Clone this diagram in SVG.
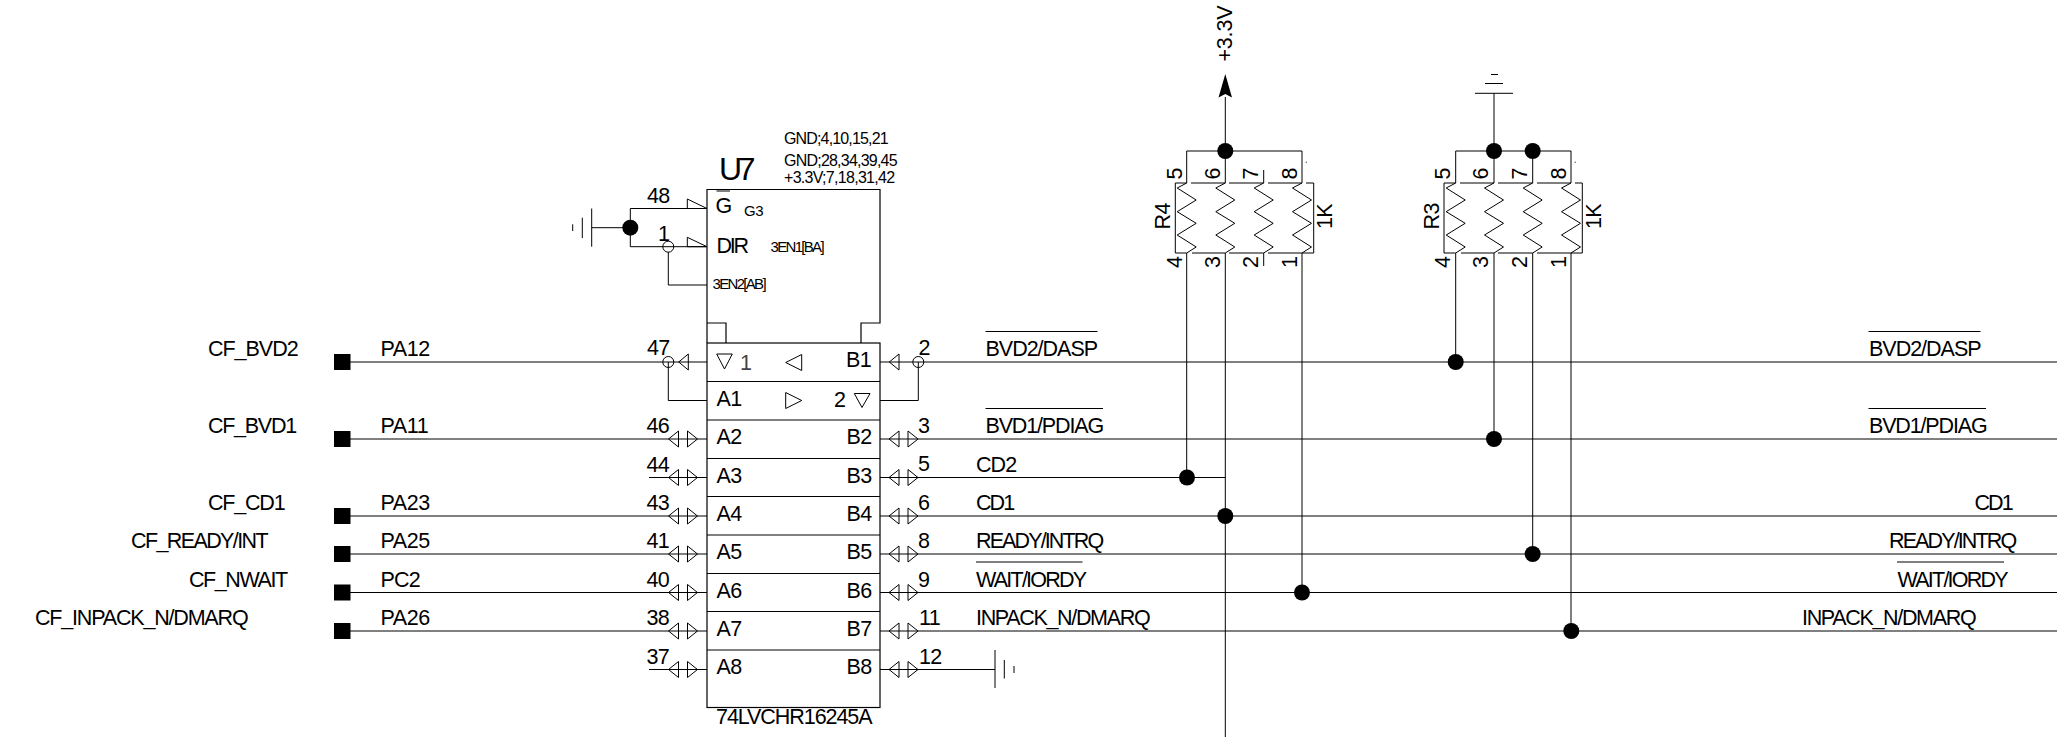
<svg xmlns="http://www.w3.org/2000/svg" width="2057" height="737" viewBox="0 0 2057 737">
<style>
text{font-family:"Liberation Sans",Arial,sans-serif;font-size:21.5px;letter-spacing:-0.6px;fill:#000}
.s{font-size:15px}.m{font-size:16px}.l{font-size:32px}
.w{fill:none;stroke:#000;stroke-width:1}
.b{fill:none;stroke:#000;stroke-width:1.2}
.t{fill:none;stroke:#000;stroke-width:1}
.d{fill:#000}
</style>
<defs>
<path id="bi" class="t" d="M0 0L10 -8V8Z M29 0L19 -8V8Z"/>
<path id="zig" class="w" d="M0 0L-9.5 5L9.5 17L-9.5 28.7L9.5 40.3L-9.5 52L9.5 64L0 70"/>
<rect id="port" x="-8" y="-8" width="16.5" height="16" fill="#000"/>
</defs>
<g id="connectors">
<path class="w" d="M350 362H707M880 362H2057M350 439H707M880 439H2057M649 477.5H707M880 477.5H1225.3M350 516H707M880 516H2057M350 554H707M880 554H2057M350 592.5H707M880 592.5H2057M350 631H707M880 631H2057M649 669.5H707M880 669.5H995"/>
<path class="w" d="M668.3 362V400.5H707M918.3 362V400.5H880"/>
<path class="w" d="M707 208.5H630.3V246.7H707M630.3 227.7H591.7M668.3 252V285H707"/>
<path class="w" d="M1225.3 97V183M1225.3 253V737"/>
<path class="w" d="M1186.7 183V151H1302V183M1263.7 170V183"/>
<path class="w" d="M1186.7 253V477.5M1263.7 253V266M1302 253V592.5"/>
<path class="w" d="M1455.7 183V151H1571V183M1494 93.3V183M1532.7 151V183"/>
<path class="w" d="M1455.7 253V362M1494 253V439M1532.7 253V554M1571 253V631"/>
</g>
<g id="junctions">
<circle class="d" cx="630.3" cy="227.7" r="8"/>
<circle class="d" cx="1225.3" cy="151" r="8"/>
<circle class="d" cx="1494" cy="151" r="8"/>
<circle class="d" cx="1532.7" cy="151" r="8"/>
<circle class="d" cx="1187" cy="477.5" r="8"/>
<circle class="d" cx="1225.3" cy="516" r="8"/>
<circle class="d" cx="1302" cy="592.5" r="8"/>
<circle class="d" cx="1455.7" cy="362" r="8"/>
<circle class="d" cx="1494" cy="439" r="8"/>
<circle class="d" cx="1532.7" cy="554" r="8"/>
<circle class="d" cx="1571.3" cy="631" r="8"/>
</g>
<g id="ports">
<use href="#port" x="342" y="362"/><use href="#port" x="342" y="439"/><use href="#port" x="342" y="516"/><use href="#port" x="342" y="554"/><use href="#port" x="342" y="592.5"/><use href="#port" x="342" y="631"/>
<text x="208" y="356" textLength="90" lengthAdjust="spacing">CF_BVD2</text>
<text x="208" y="433" textLength="88.5" lengthAdjust="spacing">CF_BVD1</text>
<text x="208" y="510" textLength="77" lengthAdjust="spacing">CF_CD1</text>
<text x="131" y="548" textLength="137" lengthAdjust="spacing">CF_READY/INT</text>
<text x="189" y="586.5" textLength="98.5" lengthAdjust="spacing">CF_NWAIT</text>
<text x="35" y="625" textLength="213" lengthAdjust="spacing">CF_INPACK_N/DMARQ</text>
<text x="380.5" y="356" textLength="49" lengthAdjust="spacing">PA12</text><text x="380.5" y="433" textLength="47.5" lengthAdjust="spacing">PA11</text><text x="380.5" y="510" textLength="49" lengthAdjust="spacing">PA23</text><text x="380.5" y="548" textLength="49" lengthAdjust="spacing">PA25</text><text x="380.5" y="586.5" textLength="39.5" lengthAdjust="spacing">PC2</text><text x="380.5" y="625" textLength="49" lengthAdjust="spacing">PA26</text>
</g>
<g id="U7">
<path class="b" d="M707 343V189.5H880V323H861V343M707 323H726V343"/>
<rect class="b" x="707" y="343" width="173" height="364.5"/>
<path class="w" d="M707 381.5H880M707 420H880M707 458.5H880M707 496.5H880M707 535H880M707 573.5H880M707 611.5H880M707 650H880"/>
<text class="l" x="719" y="179.5" textLength="36" lengthAdjust="spacing">U7</text>
<text class="m" x="784" y="144" textLength="104" lengthAdjust="spacing">GND;4,10,15,21</text>
<text class="m" x="784" y="165.5" textLength="113" lengthAdjust="spacing">GND;28,34,39,45</text>
<text class="m" x="784" y="182.5" textLength="110.5" lengthAdjust="spacing">+3.3V;7,18,31,42</text>
<text x="715.5" y="212.5">G</text>
<path class="w" d="M716.5 191H730"/>
<text class="s" x="744" y="215.5" textLength="19" lengthAdjust="spacing">G3</text>
<text x="716.5" y="252.5" textLength="32" lengthAdjust="spacing">DIR</text>
<text class="s" x="770.5" y="251.5" textLength="53.5" lengthAdjust="spacing">3EN1[BA]</text>
<text class="s" x="712.5" y="288.5" textLength="53.5" lengthAdjust="spacing">3EN2[AB]</text>
<path class="t" d="M687.3 208.5V199L707 208.5ZM687.3 246.7V237.3L707 246.7Z"/>
<circle class="t" cx="668.3" cy="246.7" r="5.5"/>
<text x="647" y="203">48</text><text x="658" y="240.5">1</text>
<circle class="t" cx="668.3" cy="362" r="5.5"/><circle class="t" cx="918.3" cy="362" r="5.5"/>
<path class="t" d="M678.7 362L688.3 354V370Z M889.3 362L899 354V370Z"/>
<path class="t" d="M716.7 354H732.3L724.5 369Z M854.3 393.5H870L862 407.5Z M785.7 362.5L801.7 354.5V370.5Z M801.7 400.5L785.7 392.5V408.5Z"/>
<text x="740" y="370" style="fill:#444">1</text>
<text x="834" y="406.5">2</text>
<text x="846" y="367">B1</text><text x="716.5" y="406">A1</text>
<text x="647" y="354.5">47</text><text x="918.5" y="355">2</text>
<use href="#bi" x="668.5" y="439"/><use href="#bi" x="668.5" y="477.5"/><use href="#bi" x="668.5" y="516"/><use href="#bi" x="668.5" y="554"/><use href="#bi" x="668.5" y="592.5"/><use href="#bi" x="668.5" y="631"/><use href="#bi" x="668.5" y="669.5"/>
<use href="#bi" x="889" y="439"/><use href="#bi" x="889" y="477.5"/><use href="#bi" x="889" y="516"/><use href="#bi" x="889" y="554"/><use href="#bi" x="889" y="592.5"/><use href="#bi" x="889" y="631"/><use href="#bi" x="889" y="669.5"/>
<text x="716.5" y="444">A2</text><text x="716.5" y="482.5">A3</text><text x="716.5" y="520.5">A4</text><text x="716.5" y="559">A5</text><text x="716.5" y="597.5">A6</text><text x="716.5" y="635.5">A7</text><text x="716.5" y="674">A8</text>
<text x="846.5" y="444">B2</text><text x="846.5" y="482.5">B3</text><text x="846.5" y="520.5">B4</text><text x="846.5" y="559">B5</text><text x="846.5" y="597.5">B6</text><text x="846.5" y="635.5">B7</text><text x="846.5" y="674">B8</text>
<text x="646.5" y="432.5">46</text><text x="646.5" y="471.5">44</text><text x="646.5" y="510">43</text><text x="646.5" y="548">41</text><text x="646.5" y="586.5">40</text><text x="646.5" y="625">38</text><text x="646.5" y="664">37</text>
<text x="918" y="433">3</text><text x="918" y="471">5</text><text x="918" y="510">6</text><text x="918" y="548">8</text><text x="918" y="586.5">9</text><text x="919" y="625">11</text><text x="919" y="664">12</text>
<text x="716" y="724" textLength="156" lengthAdjust="spacing">74LVCHR16245A</text>
</g>
<g id="gnd-left"><path class="w" d="M591.7 208.5V246.7M582.3 217.7V238M572.7 224.3V231"/></g>
<g id="gnd-b8"><path class="w" d="M995 650V688M1004.3 660V678.5M1014 666V673"/></g>
<g id="vcc">
<path d="M1225.3 74L1232 97.5L1225.3 94L1218.5 97.5Z" fill="#000"/>
<text transform="translate(1231.5,61.5) rotate(-90)" style="letter-spacing:-0.2px">+3.3V</text>
</g>
<g id="gnd-top"><path class="w" d="M1475 93.3H1513M1485 83.5H1503M1491 74.5H1498"/></g>
<g id="R4">
<path class="w" d="M1186.7 183H1175.3V253H1186.7M1191 183H1225.3M1229 183H1263.7M1268 183H1302M1306 183H1313.7V253H1302M1192 253H1225.3M1229 253H1263.7M1268 253H1302"/>
<use href="#zig" x="1186.7" y="183"/><use href="#zig" x="1225.3" y="183"/><use href="#zig" x="1263.7" y="183"/><use href="#zig" x="1302" y="183"/>
<rect x="1305.7" y="161.7" width="1" height="1" fill="#000"/>
<text transform="translate(1182,179.5) rotate(-90)">5</text><text transform="translate(1220,179.5) rotate(-90)">6</text><text transform="translate(1258,179.5) rotate(-90)">7</text><text transform="translate(1296.7,179.5) rotate(-90)">8</text>
<text transform="translate(1182,268) rotate(-90)">4</text><text transform="translate(1220,268) rotate(-90)">3</text><text transform="translate(1258,268) rotate(-90)">2</text><text transform="translate(1296.7,268) rotate(-90)">1</text>
<text transform="translate(1170,229.5) rotate(-90)">R4</text>
<text transform="translate(1332,229) rotate(-90)">1K</text>
</g>
<g id="R3">
<path class="w" d="M1455.7 183H1444V253H1455.7M1460 183H1494M1498 183H1532.7M1537 183H1571M1575 183H1582.3V253H1571M1461 253H1494M1498 253H1532.7M1537 253H1571"/>
<use href="#zig" x="1455.7" y="183"/><use href="#zig" x="1494" y="183"/><use href="#zig" x="1532.7" y="183"/><use href="#zig" x="1571" y="183"/>
<rect x="1574.7" y="161.7" width="1" height="1" fill="#000"/>
<text transform="translate(1450,179.5) rotate(-90)">5</text><text transform="translate(1488.3,179.5) rotate(-90)">6</text><text transform="translate(1527,179.5) rotate(-90)">7</text><text transform="translate(1566,179.5) rotate(-90)">8</text>
<text transform="translate(1450,268) rotate(-90)">4</text><text transform="translate(1488.3,268) rotate(-90)">3</text><text transform="translate(1527,268) rotate(-90)">2</text><text transform="translate(1566,268) rotate(-90)">1</text>
<text transform="translate(1439,229.5) rotate(-90)">R3</text>
<text transform="translate(1601,229) rotate(-90)">1K</text>
</g>
<g id="net-labels">
<path class="w" d="M985.5 331.5H1097.5M985.5 408.5H1103M976 562H1082.5M1868.5 331.5H1980.5M1868.5 408.5H1986M1897 562H2004"/>
<text x="985.5" y="356" textLength="112" lengthAdjust="spacing">BVD2/DASP</text>
<text x="985.5" y="433" textLength="118" lengthAdjust="spacing">BVD1/PDIAG</text>
<text x="976" y="471.5" textLength="40.5" lengthAdjust="spacing">CD2</text>
<text x="976" y="510" textLength="38.5" lengthAdjust="spacing">CD1</text>
<text x="976" y="548" textLength="127.5" lengthAdjust="spacing">READY/INTRQ</text>
<text x="976" y="586.5" textLength="110.5" lengthAdjust="spacing">WAIT/IORDY</text>
<text x="976" y="625" textLength="174" lengthAdjust="spacing">INPACK_N/DMARQ</text>
<text x="1869" y="356" textLength="112" lengthAdjust="spacing">BVD2/DASP</text>
<text x="1869" y="433" textLength="118" lengthAdjust="spacing">BVD1/PDIAG</text>
<text x="1974.5" y="510" textLength="38.5" lengthAdjust="spacing">CD1</text>
<text x="1889" y="548" textLength="127.5" lengthAdjust="spacing">READY/INTRQ</text>
<text x="1897.5" y="586.5" textLength="110.5" lengthAdjust="spacing">WAIT/IORDY</text>
<text x="1802" y="625" textLength="174" lengthAdjust="spacing">INPACK_N/DMARQ</text>
</g>
</svg>
